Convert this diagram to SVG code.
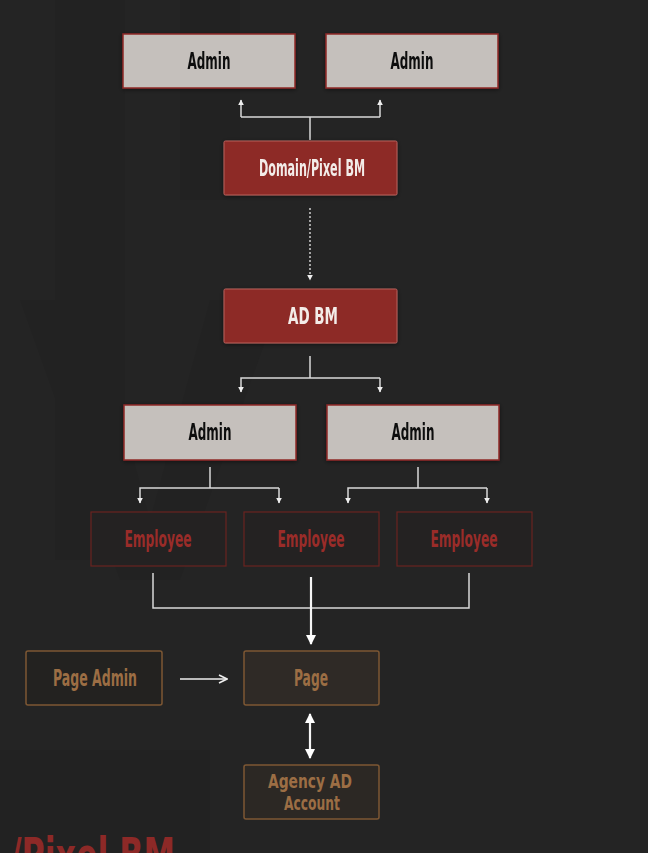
<svg xmlns="http://www.w3.org/2000/svg" width="648" height="853" viewBox="0 0 648 853">
<defs>
<style>
.lbl{font-family:"DejaVu Sans Condensed","Liberation Sans Narrow","Roboto",sans-serif;font-weight:bold;font-size:23px;text-anchor:middle;dominant-baseline:central}
.admin rect{fill:#c5c0bc;stroke:#8e2a27;stroke-width:1.5}
.admin text{fill:#111}
.bm rect{fill:#8d2927;stroke:#b8625d;stroke-width:1}
.bm text{fill:#f3ece8}
.emp rect{fill:#242222;stroke:#6a2321;stroke-width:1.2}
.emp text{fill:#9a2c29}
.pg rect{stroke:#7d5733;stroke-width:1.5}
.pg text{fill:#9c6e44}
.ln{fill:none;stroke:#d8d8d8;stroke-width:1.5}
.lnb{fill:none;stroke:#f5f5f5;stroke-width:2.2}
</style>
<marker id="ah" viewBox="0 0 10 10" refX="9" refY="5" markerWidth="6" markerHeight="6" markerUnits="userSpaceOnUse" orient="auto-start-reverse"><path d="M0,0L10,5L0,10z" fill="#eeeeee"/></marker>
<marker id="ahb" viewBox="0 0 10 10" refX="9" refY="5" markerWidth="10" markerHeight="10" markerUnits="userSpaceOnUse" orient="auto-start-reverse"><path d="M0,0L10,5L0,10z" fill="#ffffff"/></marker>
<marker id="open" viewBox="0 0 10 10" refX="9" refY="5" markerWidth="10" markerHeight="12" markerUnits="userSpaceOnUse" orient="auto"><path d="M1,1L9,5L1,9" fill="none" stroke="#eeeeee" stroke-width="1.6"/></marker>
<filter id="sh" x="-10%" y="-20%" width="120%" height="140%"><feDropShadow dx="0" dy="1" stdDeviation="2" flood-color="#000" flood-opacity="0.5"/></filter>
</defs>
<rect width="648" height="853" fill="#242424"/>
<g opacity="0.12" fill="#161616">
<rect x="55" y="0" width="70" height="560"/>
<rect x="180" y="0" width="60" height="200"/>
<path d="M20 300 L90 300 L150 520 L210 300 L280 300 L180 580 L120 580 Z"/>
<rect x="0" y="750" width="210" height="103"/>
</g>
<text x="10" y="873" font-family="DejaVu Sans Condensed,sans-serif" font-weight="bold" font-size="50" fill="#8d2927" textLength="165" lengthAdjust="spacingAndGlyphs">/Pixel BM</text>
<g id="connectors">
<path class="ln" d="M310 140 V117 M241 117 H380 M241 117 V100" marker-end="url(#ah)"/>
<path class="ln" d="M380 117 V100" marker-end="url(#ah)"/>
<path d="M310 208 V280" fill="none" stroke="#e8e8e8" stroke-width="1.3" stroke-dasharray="2,2" marker-end="url(#ah)"/>
<path class="ln" d="M310 356 V378 M380 378 H241 V392" marker-end="url(#ah)"/>
<path class="ln" d="M380 378 V392" marker-end="url(#ah)"/>
<path class="ln" d="M210 467 V488 M279 488 H140 V503" marker-end="url(#ah)"/>
<path class="ln" d="M279 488 V503" marker-end="url(#ah)"/>
<path class="ln" d="M418 467 V488 M487 488 H348 V503" marker-end="url(#ah)"/>
<path class="ln" d="M487 488 V503" marker-end="url(#ah)"/>
<path class="ln" d="M153 573 V608 H469 V573"/>
<path class="lnb" d="M311 577 V644" marker-end="url(#ahb)"/>
<path d="M180 679 H227" fill="none" stroke="#eeeeee" stroke-width="1.6" marker-end="url(#open)"/>
<path class="lnb" d="M310 714 V758" marker-start="url(#ahb)" marker-end="url(#ahb)"/>
</g>
<g id="admin1" class="admin" filter="url(#sh)"><rect x="123" y="34" width="172" height="54"/><text class="lbl" x="209" y="61" textLength="43" lengthAdjust="spacingAndGlyphs">Admin</text></g>
<g id="admin2" class="admin" filter="url(#sh)"><rect x="326" y="34" width="172" height="54"/><text class="lbl" x="412" y="61" textLength="43" lengthAdjust="spacingAndGlyphs">Admin</text></g>
<g id="domainbm" class="bm" filter="url(#sh)"><rect x="224" y="141" width="173" height="54" rx="1.5"/><text class="lbl" x="312" y="168" textLength="106" lengthAdjust="spacingAndGlyphs">Domain/Pixel BM</text></g>
<g id="adbm" class="bm" filter="url(#sh)"><rect x="224" y="289" width="173" height="54" rx="1.5"/><text class="lbl" x="313" y="316" textLength="50" lengthAdjust="spacingAndGlyphs">AD BM</text></g>
<g id="admin3" class="admin" filter="url(#sh)"><rect x="124" y="405" width="172" height="55"/><text class="lbl" x="210" y="432" textLength="43" lengthAdjust="spacingAndGlyphs">Admin</text></g>
<g id="admin4" class="admin" filter="url(#sh)"><rect x="327" y="405" width="172" height="55"/><text class="lbl" x="413" y="432" textLength="43" lengthAdjust="spacingAndGlyphs">Admin</text></g>
<g id="emp1" class="emp"><rect x="91" y="512" width="135" height="54"/><text class="lbl" x="158" y="539" textLength="67" lengthAdjust="spacingAndGlyphs">Employee</text></g>
<g id="emp2" class="emp"><rect x="244" y="512" width="135" height="54"/><text class="lbl" x="311" y="539" textLength="67" lengthAdjust="spacingAndGlyphs">Employee</text></g>
<g id="emp3" class="emp"><rect x="397" y="512" width="135" height="54"/><text class="lbl" x="464" y="539" textLength="67" lengthAdjust="spacingAndGlyphs">Employee</text></g>
<g id="pageadmin" class="pg"><rect x="26" y="651" width="136" height="54" rx="2" fill="#232220"/><text class="lbl" x="95" y="678" textLength="84" lengthAdjust="spacingAndGlyphs">Page Admin</text></g>
<g id="page" class="pg"><rect x="244" y="651" width="135" height="54" rx="2" fill="#2f2a26"/><text class="lbl" x="311" y="678" textLength="34" lengthAdjust="spacingAndGlyphs">Page</text></g>
<g id="agency" class="pg"><rect x="244" y="765" width="135" height="54" rx="2" fill="#2c2824"/><text class="lbl" style="font-size:20px"><tspan x="310" y="781" textLength="84" lengthAdjust="spacingAndGlyphs">Agency AD</tspan><tspan x="312" y="803" textLength="56" lengthAdjust="spacingAndGlyphs">Account</tspan></text></g>
</svg>
